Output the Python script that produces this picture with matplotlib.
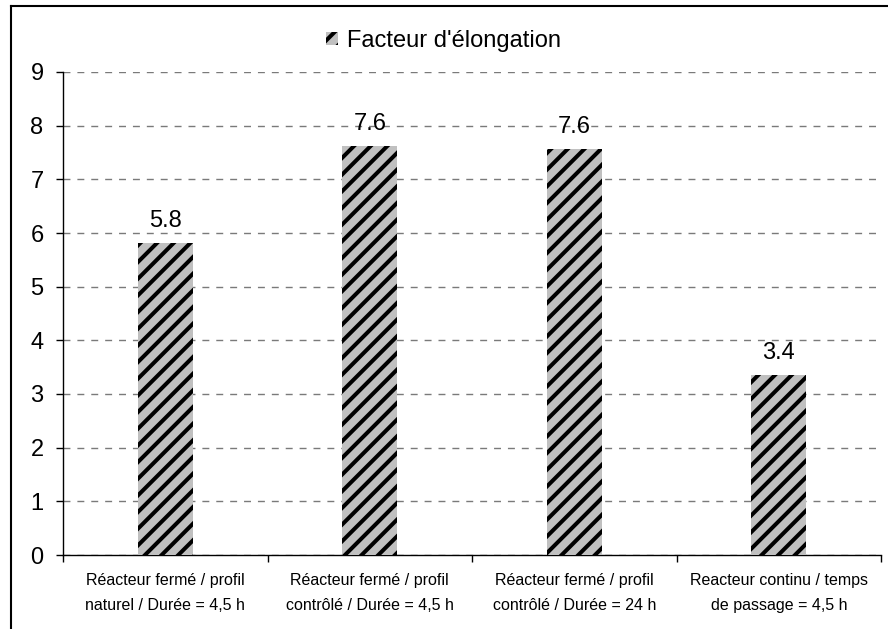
import matplotlib
matplotlib.use("Agg")
import matplotlib.pyplot as plt
from matplotlib.lines import Line2D

plt.rcParams['font.family'] = ['Liberation Sans', 'DejaVu Sans']
plt.rcParams['hatch.linewidth'] = 2.9

categories = [
    "Réacteur fermé / profil\nnaturel / Durée = 4,5 h",
    "Réacteur fermé / profil\ncontrôlé / Durée = 4,5 h",
    "Réacteur fermé / profil\ncontrôlé / Durée = 24 h",
    "Reacteur continu / temps\nde passage = 4,5 h",
]
values = [5.81, 7.62, 7.57, 3.36]
series_name = "Facteur d'élongation"
y_ticks = list(range(0, 10))

fig = plt.figure(figsize=(8.88, 6.29), dpi=100)
ax = fig.add_axes([63 / 888, 1 - 555 / 629, (881 - 63) / 888, (555 - 72) / 629])

x = list(range(len(categories)))
ax.bar(x, values, width=0.27, color='#c0c0c0', edgecolor='black',
       linewidth=0, hatch='//', label=series_name, zorder=3)

for xi, v in zip(x, values):
    ax.annotate(f"{v:.1f}", (xi, v), xytext=(0, 8), textcoords='offset points',
                ha='center', va='bottom', fontsize=17)

ax.set_xlim(-0.5, len(categories) - 0.5)
ax.set_ylim(0, 9)
ax.set_yticks(y_ticks)
ax.yaxis.grid(True, linestyle=(0, (5, 5)), color='#7a7a7a', linewidth=1.0, zorder=0)
ax.set_axisbelow(True)

# category boundaries carry the tick marks, labels sit at the centres
ax.set_xticks([i - 0.5 for i in range(len(categories) + 1)])
ax.set_xticklabels([])
ax.set_xticks(x, minor=True)
ax.set_xticklabels(categories, minor=True, fontsize=11.5, linespacing=1.8)
ax.tick_params(axis='x', which='major', direction='out', length=5, width=1)
ax.tick_params(axis='x', which='minor', length=0, pad=13)
ax.tick_params(axis='y', direction='out', length=5, width=1, labelsize=17, pad=9)

for side in ('top', 'right'):
    ax.spines[side].set_visible(False)
for side in ('left', 'bottom'):
    ax.spines[side].set_linewidth(1.0)

ax.legend(loc='center', bbox_to_anchor=(0.465, 1.0 + (72 - 41) / 483), frameon=False,
          fontsize=17, handlelength=0.5, handleheight=0.5, handletextpad=0.4)

# outer chart frame
fig.add_artist(Line2D([11 / 888, 11 / 888], [0, 1 - 6 / 629], color='black', linewidth=1.5,
                      transform=fig.transFigure))
fig.add_artist(Line2D([11 / 888, 1], [1 - 6 / 629, 1 - 6 / 629], color='black', linewidth=1.5,
                      transform=fig.transFigure))

fig.savefig("out.png", dpi=100)
